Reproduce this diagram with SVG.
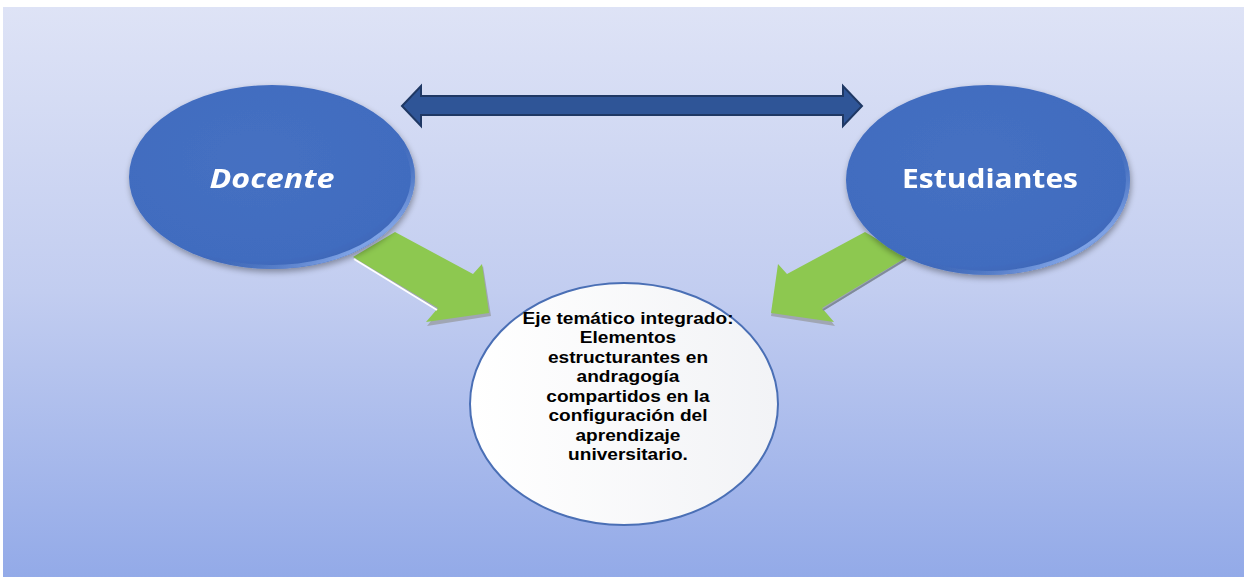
<svg xmlns="http://www.w3.org/2000/svg" width="1244" height="577" viewBox="0 0 1244 577">
<defs>
<linearGradient id="bg" x1="0" y1="0" x2="0" y2="1">
<stop offset="0" stop-color="#DEE3F6"/>
<stop offset="0.5" stop-color="#C2CDF0"/>
<stop offset="1" stop-color="#93AAE8"/>
</linearGradient>
<radialGradient id="blue" cx="0.45" cy="0.4" r="0.65">
<stop offset="0" stop-color="#4570C2"/>
<stop offset="0.85" stop-color="#416CBF"/>
<stop offset="1" stop-color="#3A62B0"/>
</radialGradient>
<linearGradient id="rim" x1="0" y1="0" x2="1" y2="1">
<stop offset="0" stop-color="#3A62B0" stop-opacity="0"/>
<stop offset="0.6" stop-color="#3A62B0" stop-opacity="0"/>
<stop offset="0.85" stop-color="#7FA3E6"/>
<stop offset="1" stop-color="#2E4F96"/>
</linearGradient>
<linearGradient id="white" x1="0" y1="0" x2="1" y2="0">
<stop offset="0" stop-color="#FFFFFF"/>
<stop offset="1" stop-color="#F2F3F6"/>
</linearGradient>
<filter id="sh" x="-20%" y="-20%" width="140%" height="140%">
<feGaussianBlur in="SourceAlpha" stdDeviation="3"/>
<feOffset dx="1" dy="3"/>
<feComponentTransfer><feFuncA type="linear" slope="0.35"/></feComponentTransfer>
<feMerge><feMergeNode/><feMergeNode in="SourceGraphic"/></feMerge>
</filter>
<style>
.lbl{font-family:"Open Sans","Liberation Sans",sans-serif;font-weight:bold;fill:#FFFFFF;text-anchor:middle}
.ctr{font-family:"Liberation Sans",Arial,sans-serif;font-weight:bold;fill:#000000;text-anchor:middle;font-size:16.9px}
.green{fill:#8DC850}
</style>
</defs>
<rect x="3" y="7" width="1241" height="570" fill="url(#bg)"/>

<g id="connectors">
<polygon points="402,106 421,86 421,96 843,96 843,86 862,106 843,126 843,115 421,115 421,126" fill="#2F5597" stroke="#1F3864" stroke-width="2" stroke-linejoin="miter"/>
<g id="arrow-left">
<polygon points="355,260 397,234 474,277 483,266 491,316 427,326 439,311" fill="#A0A6B4"/>
<polygon points="353,257 395,232 473,274 482,264 489,313 426,322 438,308" class="green"/>
<line x1="354" y1="259" x2="437" y2="310" stroke="#FFFFFF" stroke-width="2"/>
</g>
<g id="arrow-right">
<polygon points="907,260 865,234 788,277 779,266 771,316 835,326 823,311" fill="#A0A6B4"/>
<polygon points="907,257 865,232 787,274 778,264 771,313 834,322 822,308" class="green"/>
<line x1="906" y1="259" x2="823" y2="310" stroke="#7F8A9C" stroke-width="2"/>
</g>
</g>

<g id="docente" filter="url(#sh)">
<ellipse cx="272" cy="177" rx="143" ry="92" fill="url(#blue)"/>
<ellipse cx="272" cy="177" rx="141" ry="90" fill="none" stroke="url(#rim)" stroke-width="4"/>
<text class="lbl" x="272" y="188" font-size="27" font-style="italic" textLength="125" lengthAdjust="spacingAndGlyphs">Docente</text>
</g>

<g id="estudiantes" filter="url(#sh)">
<ellipse cx="988" cy="180" rx="142" ry="95" fill="url(#blue)"/>
<ellipse cx="988" cy="180" rx="140" ry="93" fill="none" stroke="url(#rim)" stroke-width="4"/>
<text class="lbl" x="990" y="188" font-size="27" textLength="176" lengthAdjust="spacingAndGlyphs">Estudiantes</text>
</g>

<g id="eje">
<ellipse cx="624" cy="404" rx="154" ry="121" fill="url(#white)" stroke="#4A6FB5" stroke-width="2"/>
<g transform="translate(628,0) scale(1.13,1) translate(-628,0)">
<text class="ctr" x="628" y="324">Eje temático integrado:</text>
<text class="ctr" x="628" y="343.5">Elementos</text>
<text class="ctr" x="628" y="363">estructurantes en</text>
<text class="ctr" x="628" y="382.5">andragogía</text>
<text class="ctr" x="628" y="402">compartidos en la</text>
<text class="ctr" x="628" y="421.5">configuración del</text>
<text class="ctr" x="628" y="441">aprendizaje</text>
<text class="ctr" x="628" y="460.5">universitario.</text>
</g>
</g>
</svg>
